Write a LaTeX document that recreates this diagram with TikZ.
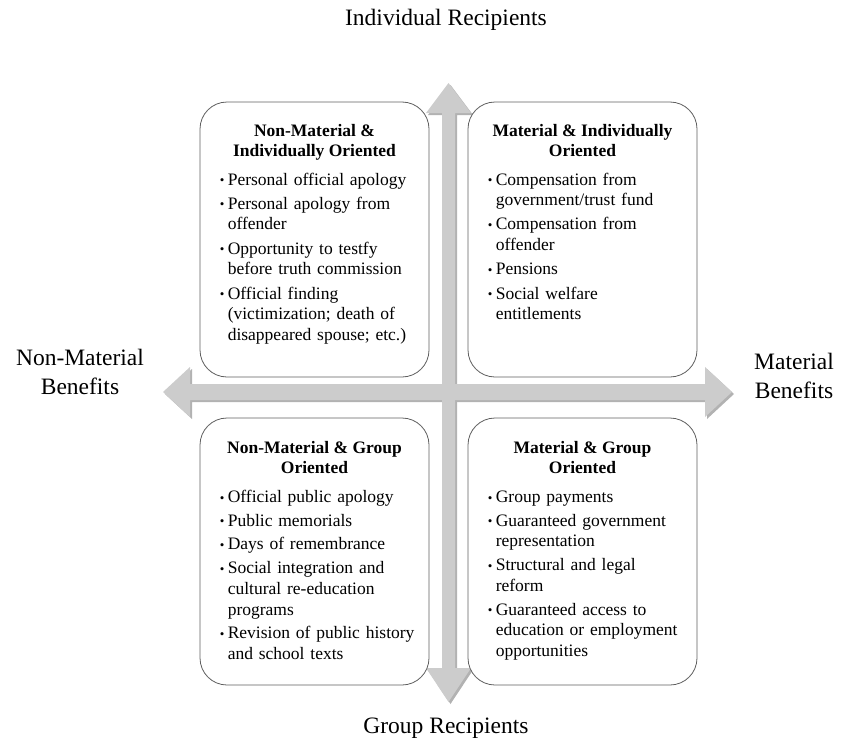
\documentclass[tikz,border=0pt]{standalone}
\usepackage{fontspec}
\setmainfont{Liberation Serif}
\usetikzlibrary{positioning}

\definecolor{axisgray}{RGB}{204,204,204}
\definecolor{axisshade}{RGB}{178,178,178}
\definecolor{boxline}{RGB}{95,95,95}

% one bullet point, hanging indent for the following lines
\newcommand{\qitem}[1]{\par\hangindent=8pt\hangafter=1\noindent
  \makebox[8pt][l]{\raisebox{0.5pt}{\fontsize{13}{13}\selectfont\textbullet}}\strut #1\strut\par}

\begin{document}
\begin{tikzpicture}[x=1pt, y=-1pt,
  quad/.style={draw=boxline, fill=white, line width=0.8pt, rounded corners=27pt,
    minimum width=229pt, inner sep=0pt},
  quadhead/.style={font=\bfseries\fontsize{17.5}{20.7}\selectfont, align=center, inner sep=0pt},
  quadlist/.style={font=\fontsize{17.5}{20.7}\selectfont, text width=200pt, inner sep=0pt, anchor=north west},
  axislabel/.style={font=\fontsize{23.5}{28.5}\selectfont, align=center, inner sep=0pt}]
\useasboundingbox (0,0) rectangle (841,744);

% the two axes
\fill[axisshade] (192,386) -- (192,369) -- (165,394) -- (192,419) -- (192,402) -- (707,402)
  -- (707,419) -- (734,394) -- (707,369) -- (707,386) -- cycle;
\fill[axisshade] (444,115) -- (428,115) -- (450.5,85) -- (473,115) -- (457,115) -- (457,670)
  -- (473,670) -- (450.5,704) -- (428,670) -- (444,670) -- cycle;
\fill[axisgray] (190,384) -- (190,367) -- (163,392) -- (190,417) -- (190,400) -- (705,400)
  -- (705,417) -- (732,392) -- (705,367) -- (705,384) -- cycle;
\fill[axisgray] (442,113) -- (426,113) -- (448.5,83) -- (471,113) -- (455,113) -- (455,668)
  -- (471,668) -- (448.5,702) -- (426,668) -- (442,668) -- cycle;

\node[axislabel] (indiv) at (446,20) {Individual Recipients};
\node[axislabel] (group) at (446,728) {Group Recipients};
\node[axislabel] (nonmat) at (80,372) {Non-Material\\Benefits};
\node[axislabel] (mat) at (794,376) {Material\\Benefits};

% quadrants
\node[quad, minimum height=275pt] (nmi) at (314.5,239.5) {};
\node[quadhead, below=20pt of nmi.north] (nmiH) {\strut Non-Material \&\\Individually Oriented};
\node[quadlist] (nmiL) at ([xshift=20pt, yshift=-59pt]nmi.north west) {\raggedright\setlength{\parskip}{3.5pt}%
  \qitem{Personal official apology}
  \qitem{Personal apology from\newline offender}
  \qitem{Opportunity to testfy\newline before truth commission}
  \qitem{Official finding\newline (victimization; death of\newline disappeared spouse; etc.)}};

\node[quad, minimum height=275pt] (mi) at (582.5,239.5) {};
\node[quadhead, below=20pt of mi.north] (miH) {\strut Material \& Individually\\Oriented};
\node[quadlist] (miL) at ([xshift=20pt, yshift=-59pt]mi.north west) {\raggedright\setlength{\parskip}{3.5pt}%
  \qitem{Compensation from\newline government/trust fund}
  \qitem{Compensation from\newline offender}
  \qitem{Pensions}
  \qitem{Social welfare\newline entitlements}};

\node[quad, minimum height=267pt] (nmg) at (314.5,551.5) {};
\node[quadhead, below=21pt of nmg.north] (nmgH) {\strut Non-Material \& Group\\Oriented};
\node[quadlist] (nmgL) at ([xshift=20pt, yshift=-61pt]nmg.north west) {\raggedright\setlength{\parskip}{3pt}%
  \qitem{Official public apology}
  \qitem{Public memorials}
  \qitem{Days of remembrance}
  \qitem{Social integration and\newline cultural re-education\newline programs}
  \qitem{Revision of public history\newline and school texts}};

\node[quad, minimum height=267pt] (mg) at (582.5,551.5) {};
\node[quadhead, below=21pt of mg.north] (mgH) {\strut Material \& Group\\Oriented};
\node[quadlist] (mgL) at ([xshift=20pt, yshift=-61pt]mg.north west) {\raggedright\setlength{\parskip}{3pt}%
  \qitem{Group payments}
  \qitem{Guaranteed government\newline representation}
  \qitem{Structural and legal\newline reform}
  \qitem{Guaranteed access to\newline education or employment\newline opportunities}};
\end{tikzpicture}
\end{document}
